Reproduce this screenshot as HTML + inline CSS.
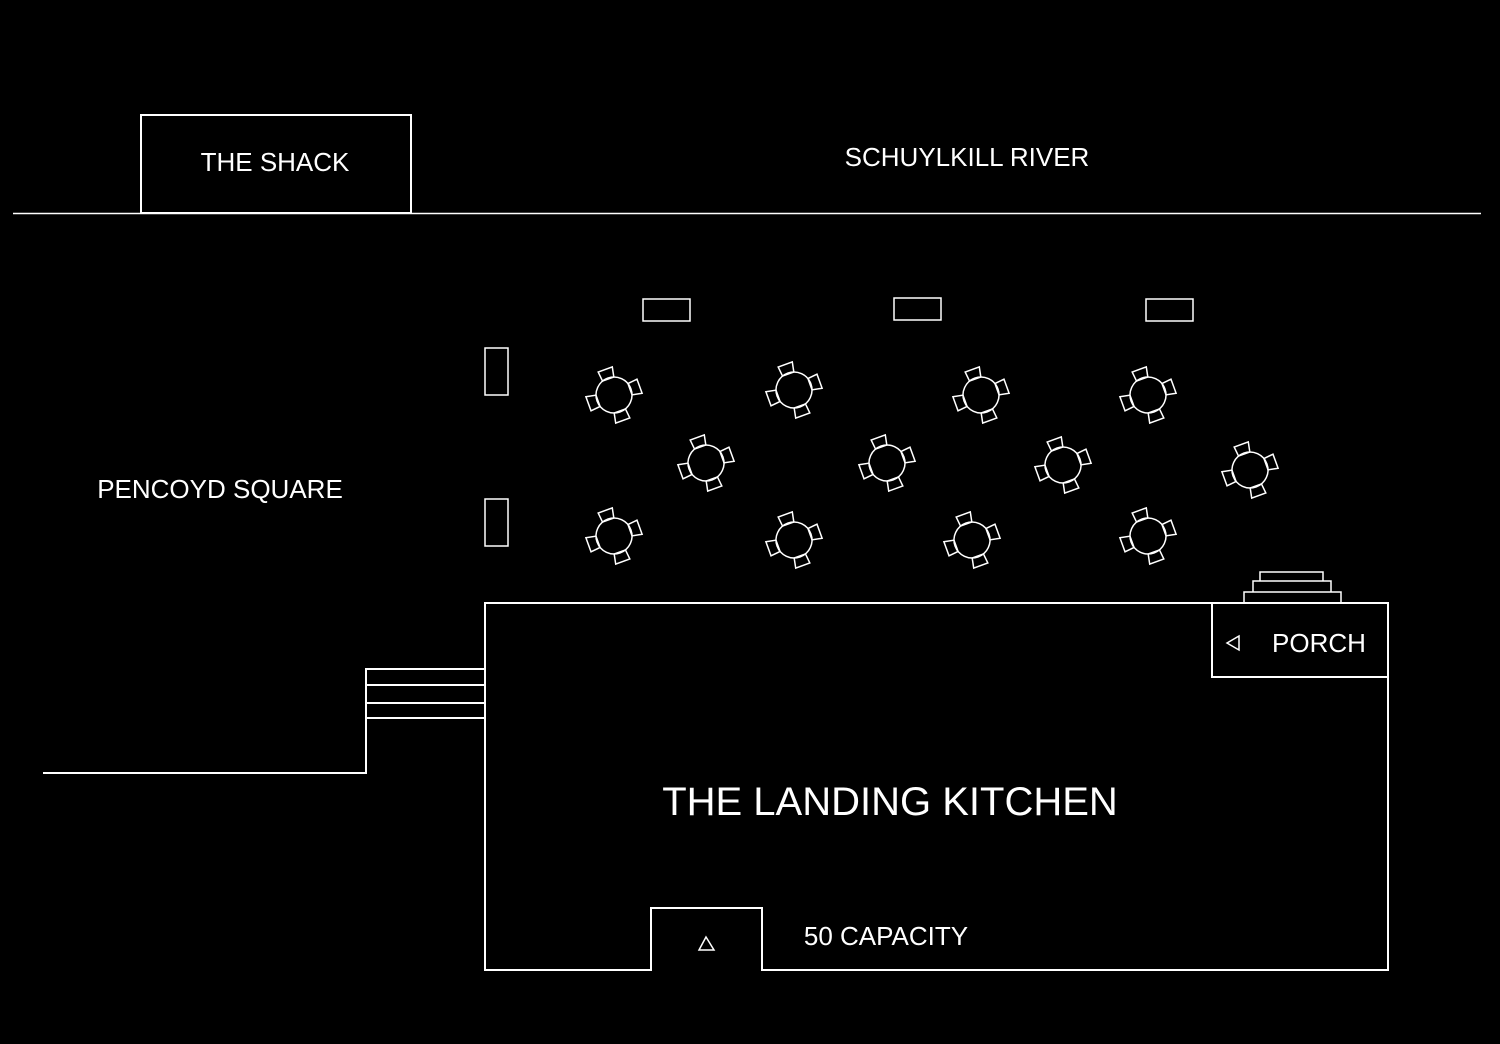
<!DOCTYPE html>
<html><head><meta charset="utf-8"><style>
html,body{margin:0;padding:0;background:#000;}
svg{display:block}
text{font-family:"Liberation Sans",sans-serif;fill:#fff}
</style></head><body>
<svg width="1500" height="1044" viewBox="0 0 1500 1044" xmlns="http://www.w3.org/2000/svg">
<defs>
<g id="t" fill="none" stroke="#fff" stroke-width="1.5">
<circle r="18"/>
<path id="c" d="M-6,-17 L6,-17 L8,-27 L-7,-27 Z"/>
<use href="#c" transform="rotate(90)"/>
<use href="#c" transform="rotate(180)"/>
<use href="#c" transform="rotate(270)"/>
</g>
</defs>
<rect width="1500" height="1044" fill="#000"/>
<g fill="none" stroke="#fff" stroke-width="2">
<line x1="13" y1="213.5" x2="1481" y2="213.5" stroke-width="1.5"/>
<rect x="141" y="115" width="270" height="98"/>
<rect x="643" y="299" width="47" height="22" stroke-width="1.5"/>
<rect x="894" y="298" width="47" height="22" stroke-width="1.5"/>
<rect x="1146" y="299" width="47" height="22" stroke-width="1.5"/>
<rect x="485" y="348" width="23" height="47" stroke-width="1.5"/>
<rect x="485" y="499" width="23" height="47" stroke-width="1.5"/>
<path d="M485,603 H1388 V970 H762 V908 H651 V970 H485 Z"/>
<path d="M1212,603 V677 H1388"/>
<path d="M1244,603 V592 H1341 V603 M1253,592 V581 H1331 V592 M1260,581 V572 H1323 V581" stroke-width="1.5"/>
<path d="M43,773 H366 V669 H485 M366,685 H485 M366,703 H485 M366,718 H485"/>
<path d="M1227,643 L1239,636 L1239,650 Z" stroke-width="1.5"/>
<path d="M706,937 L699,950 L714,950 Z" stroke-width="1.5"/>
</g>
<use href="#t" transform="translate(614,395) rotate(-20)"/>
<use href="#t" transform="translate(794,390) rotate(-20)"/>
<use href="#t" transform="translate(981,395) rotate(-20)"/>
<use href="#t" transform="translate(1148,395) rotate(-20)"/>
<use href="#t" transform="translate(706,463) rotate(-20)"/>
<use href="#t" transform="translate(887,463) rotate(-20)"/>
<use href="#t" transform="translate(1063,465) rotate(-20)"/>
<use href="#t" transform="translate(1250,470) rotate(-20)"/>
<use href="#t" transform="translate(614,536) rotate(-20)"/>
<use href="#t" transform="translate(794,540) rotate(-20)"/>
<use href="#t" transform="translate(972,540) rotate(-20)"/>
<use href="#t" transform="translate(1148,536) rotate(-20)"/>
<text x="275" y="171" font-size="26" text-anchor="middle">THE SHACK</text>
<text x="967" y="166" font-size="26" text-anchor="middle">SCHUYLKILL RIVER</text>
<text x="220" y="498" font-size="26" text-anchor="middle">PENCOYD SQUARE</text>
<text x="1319" y="652" font-size="26" text-anchor="middle">PORCH</text>
<text x="890" y="815" font-size="40" text-anchor="middle">THE LANDING KITCHEN</text>
<text x="886" y="945" font-size="26" text-anchor="middle">50 CAPACITY</text>
</svg>
</body></html>
